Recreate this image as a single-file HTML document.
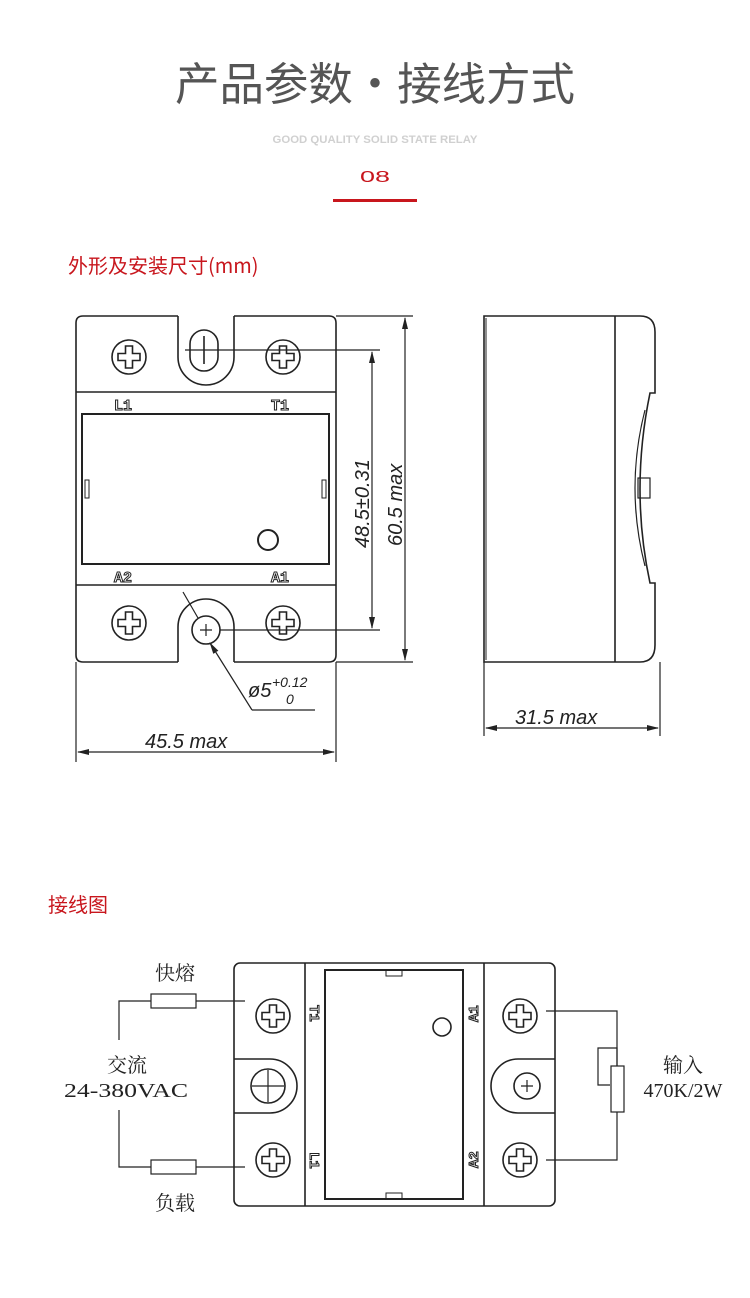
<!DOCTYPE html>
<html><head><meta charset="utf-8"><style>
html,body{margin:0;padding:0;background:#fff}
svg{display:block}
</style></head><body>
<svg width="750" height="1298" viewBox="0 0 750 1298" xmlns="http://www.w3.org/2000/svg" style="font-family:'Liberation Sans','Noto Sans CJK SC',sans-serif">
<defs>
<g id="scr"><circle r="17" fill="none" stroke="#222" stroke-width="1.6"/><path d="M-3.5,-11 H3.5 V-3.5 H11 V3.5 H3.5 V11 H-3.5 V3.5 H-11 V-3.5 H-3.5 Z" fill="none" stroke="#222" stroke-width="1.6"/></g>
<marker id="ar" markerWidth="12" markerHeight="8" refX="11" refY="4" orient="auto-start-reverse" markerUnits="userSpaceOnUse"><path d="M0,1 L12,4 L0,7 Z" fill="#222"/></marker>
</defs>
<!-- header -->
<text x="375" y="100" font-size="45" fill="#555" text-anchor="middle" style="font-family:'Noto Sans CJK SC',sans-serif" textLength="400" lengthAdjust="spacingAndGlyphs">产品参数•接线方式</text>
<text x="375" y="143" font-size="11" font-weight="bold" fill="#d0d0d0" text-anchor="middle" textLength="205" lengthAdjust="spacingAndGlyphs">GOOD QUALITY SOLID STATE RELAY</text>
<text x="375" y="182" font-size="16" fill="#c8161d" text-anchor="middle" style="font-family:'Liberation Sans',sans-serif" textLength="30" lengthAdjust="spacingAndGlyphs">08</text>
<rect x="333" y="199" width="84" height="3" fill="#c8161d"/>
<text x="68" y="273" font-size="20" fill="#c8161d" style="font-family:'Noto Sans CJK SC',sans-serif">外形及安装尺寸(mm)</text>
<text x="48" y="912" font-size="20" fill="#c8161d" style="font-family:'Noto Sans CJK SC',sans-serif">接线图</text>

<g fill="none" stroke="#222" stroke-width="1.6">
<path d="M178,316 H83 Q76,316 76,323 V655 Q76,662 83,662 H178"/>
<path d="M234,316 H329 Q336,316 336,323 V655 Q336,662 329,662 H234"/>
<path d="M178,316 V357 A28,28 0 0 0 234,357 V316"/>
<path d="M178,662 V627 A28,28 0 0 1 234,627 V662"/>
<line x1="76" y1="392" x2="336" y2="392"/>
<line x1="76" y1="585" x2="336" y2="585"/>
<rect x="82" y="414" width="247" height="150" stroke-width="2"/>
<rect x="85" y="480" width="4" height="18" stroke-width="1"/>
<rect x="322" y="480" width="4" height="18" stroke-width="1"/>
<circle cx="268" cy="540" r="10" stroke-width="2"/>
<rect x="190" y="330" width="28" height="41" rx="14"/>
<line x1="204" y1="336" x2="204" y2="364"/>
<circle cx="206" cy="630" r="14"/>
<path d="M200,630 H212 M206,624 V636" stroke-width="1.2"/>
<line x1="183" y1="592" x2="198" y2="618" stroke-width="1.2"/>
<line x1="210" y1="643" x2="252" y2="710" stroke-width="1.2" marker-start="url(#ar)"/>
<line x1="252" y1="710" x2="315" y2="710" stroke-width="1.2"/>
<line x1="185" y1="350" x2="380" y2="350" stroke-width="1.2"/>
<line x1="220" y1="630" x2="380" y2="630" stroke-width="1.2"/>
<line x1="372" y1="352" x2="372" y2="628" stroke-width="1.2" marker-start="url(#ar)" marker-end="url(#ar)"/>
<line x1="336" y1="316" x2="413" y2="316" stroke-width="1.2"/>
<line x1="336" y1="662" x2="413" y2="662" stroke-width="1.2"/>
<line x1="405" y1="318" x2="405" y2="660" stroke-width="1.2" marker-start="url(#ar)" marker-end="url(#ar)"/>
<line x1="76" y1="662" x2="76" y2="762" stroke-width="1.2"/>
<line x1="336" y1="662" x2="336" y2="762" stroke-width="1.2"/>
<line x1="78" y1="752" x2="334" y2="752" stroke-width="1.2" marker-start="url(#ar)" marker-end="url(#ar)"/>
<path d="M484,316 H640 Q655,316 655,332 V393 H650 Q630,490 650,583 H655 V645 Q655,662 640,662 H484 Z"/>
<line x1="486" y1="318" x2="486" y2="660" stroke-width="1"/>
<line x1="615" y1="316" x2="615" y2="662"/>
<path d="M645,410 Q625,488 645,566" stroke-width="1.2"/>
<rect x="638" y="478" width="12" height="20" stroke-width="1.2"/>
<line x1="484" y1="662" x2="484" y2="736" stroke-width="1.2"/>
<line x1="660" y1="662" x2="660" y2="736" stroke-width="1.2"/>
<line x1="486" y1="728" x2="658" y2="728" stroke-width="1.2" marker-start="url(#ar)" marker-end="url(#ar)"/>
</g>
<g fill="#222">
<use href="#scr" x="129" y="357"/><use href="#scr" x="283" y="357"/>
<use href="#scr" x="129" y="623"/><use href="#scr" x="283" y="623"/>
</g>
<g font-size="15" font-weight="bold" fill="#fff" stroke="#222" stroke-width="1" style="font-family:'Liberation Mono',monospace">
<text x="114" y="410">L1</text><text x="271" y="410">T1</text>
<text x="114" y="582">A2</text><text x="271" y="582">A1</text>
</g>
<g font-size="20" fill="#222" font-style="italic">
<text x="145" y="748">45.5  max</text>
<text x="515" y="724">31.5  max</text>
<text x="248" y="697">ø5</text>
<text x="272" y="687" font-size="14">+0.12</text>
<text x="286" y="704" font-size="14">0</text>
<text transform="translate(369,548) rotate(-90)">48.5±0.31</text>
<text transform="translate(402,546) rotate(-90)">60.5  max</text>
</g>

<g fill="none" stroke="#222" stroke-width="1.6">
<rect x="234" y="963" width="321" height="243" rx="6"/>
<line x1="305" y1="963" x2="305" y2="1206"/>
<line x1="484" y1="963" x2="484" y2="1206"/>
<rect x="325" y="970" width="138" height="229" stroke-width="2"/>
<rect x="386" y="970" width="16" height="6" stroke-width="1"/>
<rect x="386" y="1193" width="16" height="6" stroke-width="1"/>
<circle cx="442" cy="1027" r="9"/>
<path d="M234,1059 H270 A27,27 0 0 1 270,1113 H234"/>
<path d="M555,1059 H518 A27,27 0 0 0 518,1113 H555"/>
<circle cx="268" cy="1086" r="17"/>
<path d="M268,1070 V1102 M252,1086 H284" stroke-width="1.2"/>
<circle cx="527" cy="1086" r="13"/>
<path d="M527,1080 V1092 M521,1086 H533" stroke-width="1.2"/>
<g stroke-width="1.2">
<path d="M245,1001 H196 M151,1001 H119 V1040"/>
<path d="M119,1110 V1167 H151 M196,1167 H245"/>
<rect x="151" y="994" width="45" height="14"/>
<rect x="151" y="1160" width="45" height="14"/>
<path d="M546,1011 H617 V1066"/>
<path d="M617,1112 V1160 H546"/>
<rect x="611" y="1066" width="13" height="46"/>
<path d="M610,1085 H598 V1048 H617 V1066"/>
</g>
</g>
<g fill="#222">
<use href="#scr" x="273" y="1016"/><use href="#scr" x="273" y="1160"/>
<use href="#scr" x="520" y="1016"/><use href="#scr" x="520" y="1160"/>
</g>
<g font-size="14" font-weight="bold" fill="#fff" stroke="#222" stroke-width="1" style="font-family:'Liberation Mono',monospace">
<text transform="translate(310,1005) rotate(90)">T1</text>
<text transform="translate(310,1152) rotate(90)">L1</text>
<text transform="translate(478,1022) rotate(-90)">A1</text>
<text transform="translate(478,1168) rotate(-90)">A2</text>
</g>
<g font-size="20" fill="#222" style="font-family:'Liberation Serif','Noto Serif CJK SC',serif">
<text x="175" y="980" text-anchor="middle">快熔</text>
<text x="127" y="1072" text-anchor="middle">交流</text>
<text x="126" y="1097" text-anchor="middle" textLength="124" lengthAdjust="spacingAndGlyphs">24-380VAC</text>
<text x="175" y="1210" text-anchor="middle">负载</text>
<text x="683" y="1072" text-anchor="middle">输入</text>
<text x="683" y="1097" text-anchor="middle">470K/2W</text>
</g>
</svg>
</body></html>
